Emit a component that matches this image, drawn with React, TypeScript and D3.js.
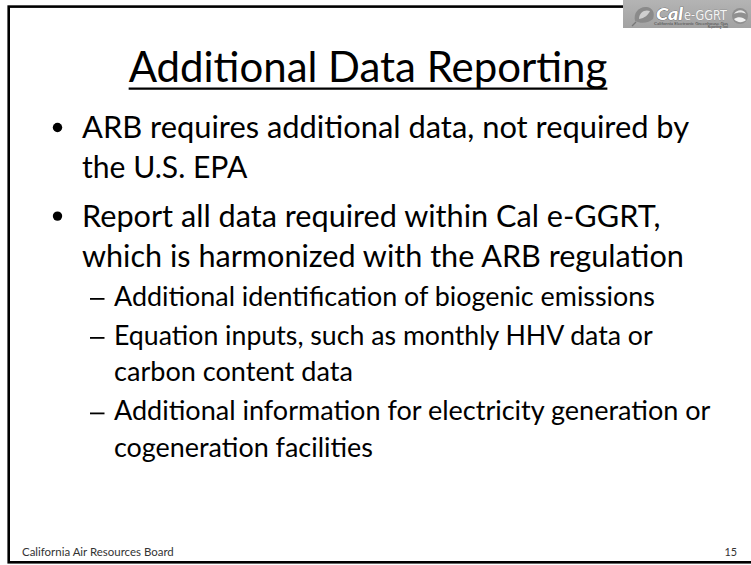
import React, { useEffect, useRef } from "react";
import * as d3 from "d3";

const TITLE = "Additional Data Reporting";
const LINE_TEXTS = [
  "ARB requires additional data, not required by",
  "the U.S. EPA",
  "Report all data required within Cal e-GGRT,",
  "which is harmonized with the ARB regulation",
  "Additional identification of biogenic emissions",
  "Equation inputs, such as monthly HHV data or",
  "carbon content data",
  "Additional information for electricity generation or",
  "cogeneration facilities",
];
const LINE_LEVELS = [0, 0, 0, 0, 1, 1, 1, 1, 1];
const LINE_NEW_PARA = [true, false, true, false, true, true, false, true, false];
const FOOTER_LEFT = "California Air Resources Board";
const FOOTER_RIGHT = "15";
const LOGO_SMALL_1 = "California Electronic Greenhouse Gas";
const LOGO_SMALL_2 = "Reporting Tool";

const W = 751;
const H = 565;
const FONT = "Lato, 'Liberation Sans', sans-serif";

// Calibri-like advance widths (per 1000 em) used to size the Lato text like the original face
const ADV: Record<string, number> = {
  " ": 226, a: 479, b: 525, c: 423, d: 525, e: 498, f: 305, g: 471, h: 525, i: 229,
  j: 239, k: 455, l: 229, m: 799, n: 525, o: 527, p: 525, q: 525, r: 349, s: 391,
  t: 335, u: 525, v: 452, w: 715, x: 433, y: 453, z: 395, A: 579, B: 544, C: 533,
  D: 615, E: 488, F: 459, G: 631, H: 623, I: 252, P: 517, R: 543, S: 459, T: 487,
  U: 653, V: 579, ",": 250, ".": 252, "-": 306, "1": 507, "5": 507,
};
const advWidth = (s: string, size: number) =>
  (Array.from(s).reduce((acc, ch) => acc + (ADV[ch] ?? 500), 0) * size) / 1000;
const LATO_RATIO = 0.92;

export default function App() {
  const ref = useRef<SVGSVGElement>(null);
  useEffect(() => {
    const svg = d3.select(ref.current);
    svg.selectAll("*").remove();

    const addText = (
      s: string,
      x: number,
      y: number,
      size: number,
      anchor: string,
      fill: string
    ) => {
      const w = advWidth(s, size);
      const x0 = anchor === "middle" ? x - w / 2 : anchor === "end" ? x - w : x;
      svg
        .append("text")
        .attr("x", x0)
        .attr("y", y)
        .attr("font-family", FONT)
        .attr("font-size", size * LATO_RATIO)
        .attr("textLength", w)
        .attr("lengthAdjust", "spacingAndGlyphs")
        .attr("fill", fill)
        .text(s);
      return { x0, w };
    };

    svg.append("rect").attr("width", W).attr("height", H).attr("fill", "#fff");
    // frame
    svg
      .append("rect")
      .attr("x", 8.7)
      .attr("y", 6.6)
      .attr("width", W + 20)
      .attr("height", 562.3 - 6.6)
      .attr("fill", "none")
      .attr("stroke", "#000")
      .attr("stroke-width", 2.6);

    // title
    const t = addText(TITLE, 368, 82, 45.4, "middle", "#000");
    svg
      .append("line")
      .attr("x1", t.x0)
      .attr("x2", t.x0 + t.w)
      .attr("y1", 88.6)
      .attr("y2", 88.6)
      .attr("stroke", "#000")
      .attr("stroke-width", 2.4);

    // bullets
    const lineH = [40.3, 36.5];
    const paraExtra = [8, 2.5];
    const fontSize = [33, 28.9];
    const textX = [82, 114];
    let y = 138;
    LINE_TEXTS.forEach((s, i) => {
      const lv = LINE_LEVELS[i];
      if (i > 0) y += lineH[lv] + (LINE_NEW_PARA[i] ? paraExtra[lv] : 0);
      if (LINE_NEW_PARA[i]) {
        if (lv === 0) {
          svg
            .append("circle")
            .attr("cx", 57.5)
            .attr("cy", y - 10.5)
            .attr("r", 4.7)
            .attr("fill", "#000");
        } else {
          svg
            .append("line")
            .attr("x1", 90)
            .attr("x2", 104.5)
            .attr("y1", y - 7)
            .attr("y2", y - 7)
            .attr("stroke", "#000")
            .attr("stroke-width", 1.8);
        }
      }
      addText(s, textX[lv], y, fontSize[lv], "start", "#000");
    });

    // footer
    addText(FOOTER_LEFT, 22, 556, 12.35, "start", "#333");
    addText(FOOTER_RIGHT, 737, 556, 12.35, "end", "#333");

    // logo
    const defs = svg.append("defs");
    const grad = defs
      .append("linearGradient")
      .attr("id", "logoBg")
      .attr("x1", 0)
      .attr("x2", 0)
      .attr("y1", 0)
      .attr("y2", 1);
    grad.append("stop").attr("offset", "0%").attr("stop-color", "#b4b4b4");
    grad.append("stop").attr("offset", "100%").attr("stop-color", "#a2a2a2");
    const g = svg.append("g").attr("transform", "translate(623,0)");
    g.append("rect").attr("width", 130).attr("height", 28).attr("fill", "url(#logoBg)");
    // poppy flower
    const pop = g.append("g").attr("transform", "translate(22,15)");
    pop
      .append("path")
      .attr("d", "M-10,6 C-12,-2 -6,-9 2,-8 C8,-7 10,-2 8,4 C4,8 -4,9 -10,6 Z")
      .attr("fill", "#8a8a8a");
    pop
      .append("path")
      .attr("d", "M-6,4 C-6,-3 0,-6 5,-4 C3,0 0,3 -6,4 Z")
      .attr("fill", "#cfcfcf");
    pop
      .append("path")
      .attr("d", "M-9,7 L-13,11")
      .attr("stroke", "#777")
      .attr("stroke-width", 1.2);
    g.append("text")
      .attr("x", 33)
      .attr("y", 19.5)
      .attr("font-family", FONT)
      .attr("font-style", "italic")
      .attr("font-weight", 900)
      .attr("font-size", 17)
      .attr("textLength", 27)
      .attr("lengthAdjust", "spacingAndGlyphs")
      .attr("fill", "#fff")
      .attr("stroke", "#555")
      .attr("stroke-width", 0.7)
      .attr("paint-order", "stroke")
      .text("Cal");
    g.append("text")
      .attr("x", 61)
      .attr("y", 19.5)
      .attr("font-family", "'DejaVu Sans', sans-serif")
      .attr("font-size", 14)
      .attr("textLength", 43)
      .attr("lengthAdjust", "spacingAndGlyphs")
      .attr("fill", "#f4f4f4")
      .attr("stroke", "#777")
      .attr("stroke-width", 0.5)
      .attr("paint-order", "stroke")
      .text("e-GGRT");
    g.append("text")
      .attr("x", 105)
      .attr("y", 24.8)
      .attr("text-anchor", "end")
      .attr("font-family", FONT)
      .attr("font-size", 3.4)
      .attr("textLength", 74)
      .attr("lengthAdjust", "spacingAndGlyphs")
      .attr("fill", "#4a4a4a")
      .text(LOGO_SMALL_1);
    g.append("text")
      .attr("x", 105)
      .attr("y", 27.6)
      .attr("text-anchor", "end")
      .attr("font-family", FONT)
      .attr("font-size", 3.2)
      .attr("fill", "#4a4a4a")
      .text(LOGO_SMALL_2);
    const ic = g.append("g").attr("transform", "translate(117,16)");
    ic.append("circle").attr("r", 8).attr("fill", "#8f8f8f");
    ic.append("path")
      .attr("d", "M-6,-2 C-3,-7 4,-7 6,-2 C3,-4 -2,-4 -6,-2 Z")
      .attr("fill", "#e6e6e6");
    ic.append("path")
      .attr("d", "M-6,3 C-2,0 3,1 6,4 C3,7 -3,7 -6,3 Z")
      .attr("fill", "#f0f0f0");
  }, []);
  return (
    <svg
      ref={ref}
      width={W}
      height={H}
      style={{ position: "absolute", left: 0, top: 0, display: "block" }}
    />
  );
}
